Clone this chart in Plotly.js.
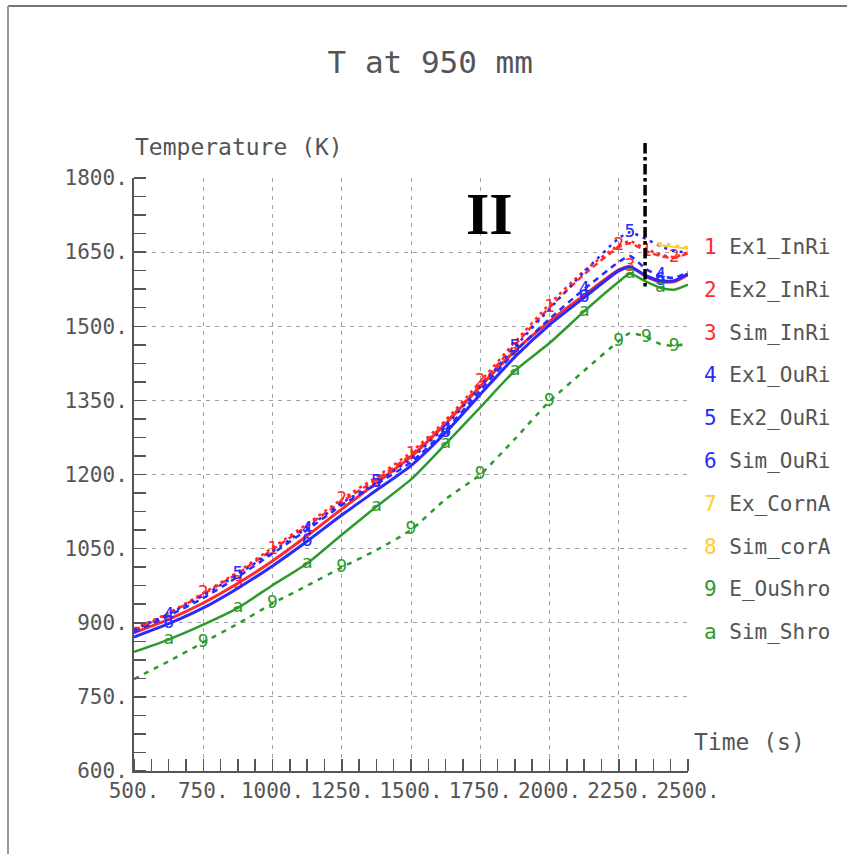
<!DOCTYPE html>
<html>
<head>
<meta charset="utf-8">
<script src="https://cdn.plot.ly/plotly-3.0.1.min.js"></script>
<style>html,body{margin:0;padding:0;background:#fff;}#chart{width:847px;height:854px;}</style>
</head>
<body>
<div id="chart"></div>
<script>
// ---- data ----
var time = [500, 625, 750, 875, 1000, 1125, 1250, 1375, 1500, 1625, 1750, 1875, 2000, 2125, 2250, 2290, 2350, 2400, 2450, 2500];
var ex1InRi  = [885, 918, 958, 1000, 1048, 1096, 1145, 1190, 1240, 1305, 1382, 1462, 1538, 1605, 1660, 1668, 1652, 1642, 1638, 1648];
var ex2InRi  = [888, 920, 960, 1003, 1052, 1100, 1150, 1195, 1245, 1310, 1388, 1468, 1545, 1612, 1664, 1672, 1656, 1645, 1640, 1650];
var simInRi  = [880, 907, 940, 980, 1025, 1076, 1130, 1183, 1236, 1303, 1378, 1450, 1510, 1563, 1614, 1621, 1600, 1590, 1590, 1604];
var ex1OuRi  = [880, 914, 950, 993, 1040, 1088, 1138, 1180, 1225, 1290, 1370, 1448, 1515, 1575, 1630, 1642, 1615, 1602, 1598, 1610];
var ex2OuRi  = [885, 918, 955, 998, 1044, 1092, 1142, 1184, 1232, 1298, 1378, 1458, 1535, 1610, 1678, 1690, 1676, 1662, 1652, 1650];
var simOuRi  = [871, 898, 930, 970, 1015, 1065, 1118, 1168, 1218, 1285, 1362, 1438, 1503, 1558, 1612, 1620, 1602, 1592, 1592, 1606];
var timeCorn = [2390, 2430, 2470, 2500];
var exCornA  = [1668, 1666, 1662, 1660];
var simCorA  = [1664, 1662, 1659, 1657];
var eOuShro  = [786, 822, 860, 898, 939, 975, 1012, 1047, 1088, 1150, 1200, 1272, 1348, 1410, 1470, 1486, 1478, 1464, 1460, 1466];
var simShro  = [841, 866, 896, 930, 976, 1020, 1078, 1135, 1190, 1262, 1336, 1410, 1466, 1530, 1590, 1606, 1590, 1578, 1574, 1584];

var seriesNames  = ["Ex1_InRi", "Ex2_InRi", "Sim_InRi", "Ex1_OuRi", "Ex2_OuRi", "Sim_OuRi", "Ex_CornA", "Sim_corA", "E_OuShro", "Sim_Shro"];
var seriesLabels = ["1", "2", "3", "4", "5", "6", "7", "8", "9", "a"];
var xTicks = [500, 750, 1000, 1250, 1500, 1750, 2000, 2250, 2500];
var yTicks = [600, 750, 900, 1050, 1200, 1350, 1500, 1650, 1800];

// ---- styles ----
var RED = "#ff2a2a", BLUE = "#2a2aff", GREEN = "#2e9a2e", YEL = "#ffcc33";
var styles = [
  {x: time, y: ex1InRi, color: RED, dash: "6px,4px", w: 2.5, per: 4, off: 0},
  {x: time, y: ex2InRi, color: RED, dash: "3px,4px", w: 2.5, per: 4, off: 2},
  {x: time, y: simInRi, color: RED, dash: "solid", w: 3, per: 4, off: 3},
  {x: time, y: ex1OuRi, color: BLUE, dash: "6px,5px", w: 2.5, per: 4, off: 1},
  {x: time, y: ex2OuRi, color: BLUE, dash: "3px,5px", w: 2.5, per: 4, off: 3},
  {x: time, y: simOuRi, color: BLUE, dash: "solid", w: 3, per: 4, off: 1},
  {x: timeCorn, y: exCornA, color: YEL, dash: "4px,5px", w: 2.5, per: 0, off: -1},
  {x: timeCorn, y: simCorA, color: YEL, dash: "solid", w: 2, per: 0, off: -1},
  {x: time, y: eOuShro, color: GREEN, dash: "5px,6px", w: 2.5, per: 2, off: 0},
  {x: time, y: simShro, color: GREEN, dash: "solid", w: 2.5, per: 2, off: 1}
];

var traces = styles.map(function (s, i) {
  var txt = s.x.map(function (v, k) {
    if (s.off < 0) return "";
    return (k % s.per === s.off && k > 0 && k < s.x.length - 1) ? seriesLabels[i] : "";
  });
  return {
    x: s.x, y: s.y, name: seriesNames[i], type: "scatter", mode: "lines+text",
    text: txt, textposition: "middle center",
    textfont: {family: "DejaVu Sans Mono", size: 18, color: s.color},
    line: {color: s.color, width: s.w, dash: s.dash, shape: "spline", smoothing: 0.6},
    hoverinfo: "skip", cliponaxis: false
  };
});

var TXT = "#555555";
var FONT = "DejaVu Sans Mono";
var annotations = [
  {text: "Temperature (K)", xref: "paper", yref: "paper", x: -0.002, y: 1.052, xanchor: "left", yanchor: "middle",
   showarrow: false, font: {family: FONT, size: 23, color: TXT}},
  {text: "Time (s)", xref: "paper", yref: "paper", x: 1.008, y: 0.049, xanchor: "left", yanchor: "middle",
   showarrow: false, font: {family: FONT, size: 23, color: TXT}},
  {text: "<b>II</b>", xref: "paper", yref: "paper", x: 0.642, y: 0.94, xanchor: "center", yanchor: "middle",
   showarrow: false, font: {family: "Liberation Serif", size: 60, color: "#000"}}
];
var legendColors = [RED, RED, RED, BLUE, BLUE, BLUE, YEL, YEL, GREEN, GREEN];
seriesNames.forEach(function (n, i) {
  var py = 247 + i * 42.8;
  annotations.push({
    text: '<span style="color:' + legendColors[i] + '">' + seriesLabels[i] + '</span> ' + n,
    xref: "paper", yref: "paper", x: (702 - 134) / 554, y: (771 - py) / 593,
    xanchor: "left", yanchor: "middle", showarrow: false,
    font: {family: FONT, size: 21, color: TXT}
  });
});

var axisCommon = {
  showgrid: true, gridcolor: "#a0a0a0", gridwidth: 1, griddash: "4px,5px",
  showline: true, linecolor: "#555", linewidth: 2, zeroline: false,
  ticks: "", tickmode: "array",
  tickfont: {family: FONT, size: 21, color: TXT},
  minor: {tickmode: "linear", ticks: "inside", ticklen: 12, tickcolor: "#555", tickwidth: 1.5, showgrid: false}
};

var layout = {
  width: 847, height: 854,
  margin: {l: 134, r: 159, t: 178, b: 83},
  paper_bgcolor: "#fff", plot_bgcolor: "#fff",
  showlegend: false,
  title: {text: "T at 950 mm", x: 0.508, xref: "container", y: 0.927, yref: "container", xanchor: "center", yanchor: "middle",
          font: {family: FONT, size: 31, color: TXT}},
  xaxis: Object.assign({}, axisCommon, {
    range: [500, 2500], tickvals: xTicks, ticktext: xTicks.map(function (v) { return v + "."; }),
    minor: Object.assign({}, axisCommon.minor, {tick0: 500, dtick: 62.5}), ticklabelstandoff: 0
  }),
  yaxis: Object.assign({}, axisCommon, {
    range: [600, 1800], tickvals: yTicks, ticktext: yTicks.map(function (v) { return v + "."; }),
    minor: Object.assign({}, axisCommon.minor, {tick0: 600, dtick: 37.5}), ticklabelstandoff: 0
  }),
  annotations: annotations,
  shapes: [
    {type: "line", xref: "x", yref: "paper", x0: 2345, x1: 2345, y0: 1.059, y1: 0.811,
     line: {color: "#000", width: 3.5, dash: "dashdot"}},
    {type: "line", xref: "paper", yref: "paper", x0: (8 - 134) / 554, x1: (847 - 134) / 554, y0: (771 - 6) / 593, y1: (771 - 6) / 593,
     line: {color: "#777", width: 2}},
    {type: "line", xref: "paper", yref: "paper", x0: (8 - 134) / 554, x1: (8 - 134) / 554, y0: (771 - 6) / 593, y1: (771 - 860) / 593,
     line: {color: "#999", width: 2}}
  ]
};

Plotly.newPlot("chart", traces, layout, {displayModeBar: false, staticPlot: true});
</script>
</body>
</html>
